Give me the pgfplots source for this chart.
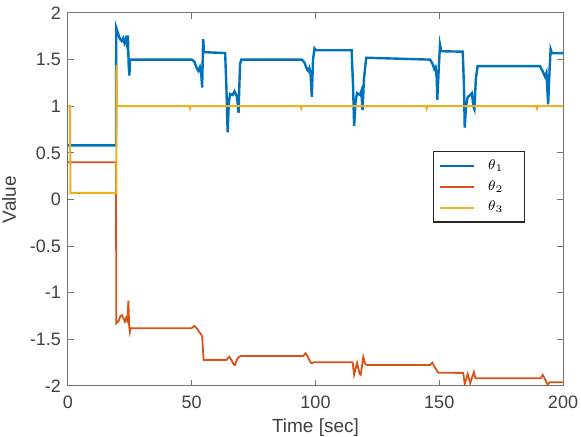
\documentclass[border=0pt]{standalone}
\usepackage{pgfplots}
\pgfplotsset{compat=1.18}
\usepackage{fontspec}
\setmainfont{Liberation Sans}
\definecolor{mblue}{rgb}{0,0.447,0.741}
\definecolor{morange}{rgb}{0.85,0.325,0.098}
\definecolor{myellow}{rgb}{0.929,0.694,0.125}
\begin{document}
\begin{tikzpicture}
\begin{axis}[name=ax,
  scale only axis, width=247.5pt, height=186.5pt,
  xmin=0, xmax=200, ymin=-2, ymax=2,
  xtick={0,50,100,150,200}, ytick={-2,-1.5,-1,-0.5,0,0.5,1,1.5,2},
  tick align=inside, tick pos=both,
  major tick length=3pt,
  axis line style={black!55, line width=0.5pt},
  tick style={black!55, line width=0.5pt},
  tick label style={font=\fontsize{9}{10}\selectfont, text=black!75},
  xticklabel style={yshift=-1.5pt},
  /pgf/number format/assume math mode=true,
  yticklabel style={/pgf/number format/.cd, fixed, precision=1},
  xlabel={Time [sec]}, ylabel={Value},
  label style={font=\fontsize{9.5}{11}\selectfont, text=black!75},
  xlabel style={yshift=2pt},
  legend style={at={(0.737,0.63)}, anchor=north west, draw=black!85, line width=0.7pt,
    font=\fontsize{7}{8}\selectfont, inner xsep=2.5pt, inner ysep=2pt, row sep=0pt},
  legend cell align=left,
  legend image code/.code={\draw[#1] (0pt,0pt) -- (17pt,0pt);},
]
\addplot[mblue, line width=1.2pt] coordinates {
(0,0.58)(19.4,0.58)(19.5,1.84)(20.2,1.78)(21,1.72)(21.7,1.70)(22.3,1.73)(22.8,1.68)(23.3,1.72)(23.8,1.66)(24.2,1.76)(24.5,1.45)(24.8,1.33)(25.1,1.50)(50,1.50)(51,1.48)(52,1.41)(52.7,1.38)(53.3,1.42)(53.8,1.36)(54.2,1.2)(54.6,1.72)(55,1.58)(63.5,1.57)(64,1.2)(64.5,0.72)(65,1.05)(65.5,1.13)(66.5,1.12)(67.3,1.16)(68.3,1.1)(68.9,0.93)(69.5,1.45)(70,1.50)(94.5,1.50)(95.5,1.47)(96.5,1.40)(97,1.38)(97.5,1.41)(98,1.35)(98.5,1.1)(99,1.5)(99.6,1.62)(100.2,1.60)(114.6,1.60)(115.2,1.2)(115.6,0.79)(116.2,1.05)(116.8,1.14)(118,1.12)(118.5,1.16)(119,0.96)(119.6,1.3)(120.5,1.52)(146.3,1.50)(147.2,1.46)(148,1.40)(148.5,1.42)(149,1.3)(149.2,1.07)(149.8,1.4)(150.3,1.66)(150.8,1.59)(159.5,1.585)(160,1.2)(160.3,0.77)(160.8,1.0)(161.5,1.10)(162.5,1.12)(163.2,1.14)(163.8,1.0)(164.2,0.97)(164.8,1.3)(165.5,1.43)(190.7,1.43)(191.7,1.38)(192.7,1.32)(193.3,1.36)(194,1.02)(194.6,1.4)(195,1.61)(195.5,1.57)(200,1.57)
};
\addlegendentry{\hspace*{4.5pt}$\theta_1$\hspace*{6pt}\mbox{}}
\addplot[morange, line width=0.9pt] coordinates {
(0,0.40)(19.4,0.40)(19.5,-1.33)(20.5,-1.30)(21.2,-1.25)(21.8,-1.24)(22.5,-1.28)(23,-1.31)(23.5,-1.27)(24,-1.30)(24.4,-1.085)(24.7,-1.35)(25,-1.42)(25.3,-1.38)(50,-1.38)(51,-1.355)(52,-1.38)(53,-1.42)(53.6,-1.44)(54.2,-1.47)(54.8,-1.72)(64,-1.72)(64.6,-1.70)(65.2,-1.686)(66,-1.72)(67,-1.77)(67.5,-1.775)(68.2,-1.72)(69,-1.69)(70,-1.678)(95,-1.678)(96,-1.65)(97,-1.69)(97.8,-1.74)(98.5,-1.757)(99.2,-1.746)(115,-1.746)(115.6,-1.88)(116.8,-1.75)(117.8,-1.87)(118.3,-1.88)(119.3,-1.69)(120,-1.76)(120.7,-1.775)(146.3,-1.775)(147.2,-1.75)(148.2,-1.80)(149.6,-1.857)(159.7,-1.86)(160.3,-1.98)(161.5,-1.87)(162.5,-1.97)(164,-1.85)(164.6,-1.917)(191,-1.917)(191.8,-1.88)(192.8,-1.93)(193.8,-1.99)(194.5,-1.96)(200,-1.96)
};
\addlegendentry{\hspace*{4.5pt}$\theta_2$\hspace*{6pt}\mbox{}}
\addplot[myellow, line width=1pt] coordinates {
(0,1.0)(0.8,1.0)(1.0,0.07)(19.5,0.07)(19.6,1.44)(19.8,1.0)(49,1.0)(49.3,0.975)(49.6,1.0)(93.9,1)(94.2,0.975)(94.5,1)(144.6,1)(144.9,0.975)(145.2,1)(189.2,1)(189.5,0.975)(189.8,1)(200,1)
};
\addlegendentry{\hspace*{4.5pt}$\theta_3$\hspace*{6pt}\mbox{}}
\end{axis}
\pgfresetboundingbox
\path ([shift={(-34pt,-25.5pt)}]ax.south west) rectangle ([shift={(9pt,6.5pt)}]ax.north east);
\end{tikzpicture}
\end{document}
